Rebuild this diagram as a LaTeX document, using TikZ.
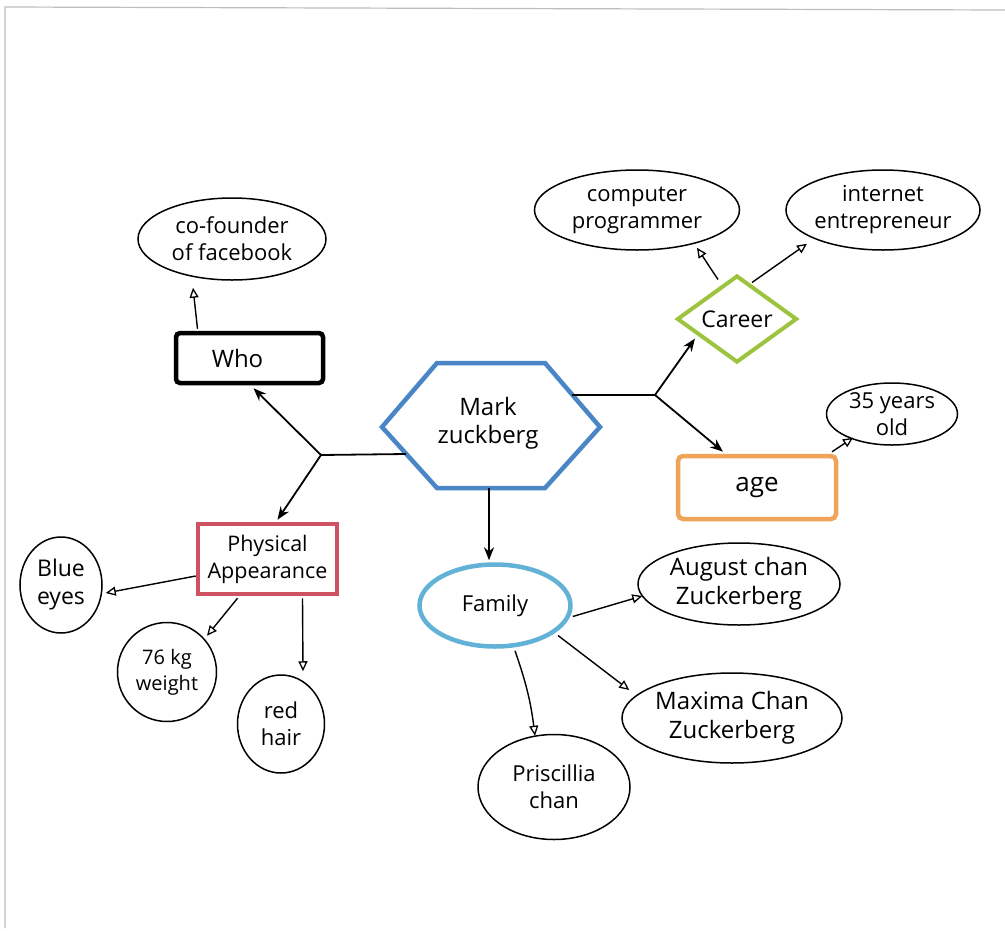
\documentclass[tikz,border=0pt]{standalone}
\usepackage{fontspec}
\setmainfont{Open Sans}
\usetikzlibrary{arrows.meta,shapes.geometric,calc}

\definecolor{hexblue}{HTML}{4A86C5}
\definecolor{careergreen}{HTML}{9CC43E}
\definecolor{ageorange}{HTML}{F0A458}
\definecolor{appred}{HTML}{CD5363}
\definecolor{famblue}{HTML}{62B1D6}
\definecolor{framegray}{HTML}{BDBDBD}

\tikzset{
  txt/.style={font=\fontsize{22}{27}\selectfont, align=center, inner sep=0pt},
  bub/.style={txt, draw, ellipse, line width=1.5pt},
  mainarrow/.style={line width=1.8pt, -{Stealth[length=13pt,width=10pt]}},
  subarrow/.style={line width=1.4pt, -{Triangle[open,length=10pt,width=9pt,line width=1.3pt]}},
  trunk/.style={line width=1.8pt},
}

\begin{document}
\begin{tikzpicture}[x=1pt,y=-1pt]
\useasboundingbox (0,0) rectangle (1005,930);
\fill[white] (0,0) rectangle (1005,930);

% page frame
\draw[framegray, line width=1.2pt] (5,928) -- (5,7) -- (1005,10);

% central hexagon
\draw[hexblue, line width=4.5pt, line join=miter]
  (382,427) -- (437,363) -- (545,363) -- (600,427) -- (545,488) -- (437,488) -- cycle;
\node[txt, font=\fontsize{24}{28}\selectfont] (mz) at (488,423) {Mark\\zuckberg};
\coordinate (hxL) at (406,454);
\coordinate (hxR) at (572,395);
\coordinate (hxB) at (489,488);
\coordinate (jL) at (321,455);
\coordinate (jR) at (655,395);

% first-level nodes
\node[txt, draw, line width=4.5pt, rounded corners=4pt, minimum width=147, minimum height=50, font=\fontsize{24}{28}\selectfont] (who) at (249.5,358) {Who\hspace{24pt}};
\node[txt, draw=careergreen, diamond, line width=4pt, minimum width=120, minimum height=87, aspect=1.4, font=\fontsize{23}{27}\selectfont] (car) at (737,319) {Career};
\node[txt, draw=ageorange, line width=4.5pt, rounded corners=5pt, minimum width=158, minimum height=63, font=\fontsize{26}{30}\selectfont] (age) at (757,487.5) {age};
\node[txt, draw=appred, line width=4.5pt, minimum width=139, minimum height=70, font=\fontsize{21.5}{27}\selectfont] (pa) at (267.5,559) {Physical\\Appearance};
\node[txt, draw=famblue, ellipse, line width=4.5pt, minimum width=151, minimum height=82] (fam) at (495,605.5) {Family};

% second-level nodes
\node[bub, minimum width=188, minimum height=82] (cof) at (232,239) {co-founder\\of facebook};
\node[bub, minimum width=205, minimum height=80] (comp) at (637,210) {computer\\programmer};
\node[bub, minimum width=168, minimum height=80] (inet) at (883,210) {internet\\entrepreneur};
\node[bub, minimum width=131, minimum height=62] (yrs) at (892,414) {35 years\\old};
\node[bub, minimum width=82, minimum height=96, font=\fontsize{23}{28}\selectfont] (blue) at (61,585) {Blue\\eyes};
\node[bub, minimum width=99, minimum height=99, font=\fontsize{20}{26}\selectfont] (kg) at (167,672) {76 kg\\weight};
\node[bub, minimum width=87, minimum height=98] (hair) at (281,724) {red\\hair};
\node[bub, minimum width=202, minimum height=82, font=\fontsize{24}{29}\selectfont] (aug) at (739,584) {August chan\\Zuckerberg};
\node[bub, minimum width=220, minimum height=90, font=\fontsize{24}{29}\selectfont] (max) at (732,718) {Maxima Chan\\Zuckerberg};
\node[bub, minimum width=152, minimum height=105] (pri) at (554,787) {Priscillia\\chan};

% trunks from the centre
\draw[trunk] (hxL) -- (jL);
\draw[trunk] (hxR) -- (jR);
\draw[mainarrow] (jL) -- ($(who.south)+(4,3)$);
\draw[mainarrow] (jL) -- ($(pa.north)+(10,-2)$);
\draw[mainarrow] (jR) -- ($(car.south)+(-42,-26)$);
\draw[mainarrow] (jR) -- ($(age.north)+(-34,-2)$);
\draw[mainarrow] (hxB) -- ($(fam.north)+(-6,-2)$);

% branches
\draw[subarrow] ($(who.north)+(-52,-2)$) -- ($(cof.south)+(-39,7)$);
\draw[subarrow] ($(car.north)+(-19,6)$) -- ($(comp.south)+(60,-3)$);
\draw[subarrow] ($(car.north)+(15,9)$) -- ($(inet.south)+(-76,-7)$);
\draw[subarrow] ($(age.north)+(75,-2)$) -- ($(yrs.south)+(-39,-8)$);
\draw[subarrow] ($(pa.west)+(0,17)$) -- ($(blue.east)+(3,8)$);
\draw[subarrow] ($(pa.south)+(-30,2)$) -- ($(kg.north)+(40,14)$);
\draw[subarrow] ($(pa.south)+(35,2)$) -- ($(hair.north)+(22,-3)$);
\draw[subarrow] ($(fam.east)+(0,11)$) -- ($(aug.west)+(5,12)$);
\draw[subarrow] ($(fam)+(63,30)$) -- ($(max.west)+(8,-28)$);
\draw[subarrow] ($(fam.south)+(20,2)$) to[bend left=6] ($(pri.north)+(-19,2)$);
\end{tikzpicture}
\end{document}
